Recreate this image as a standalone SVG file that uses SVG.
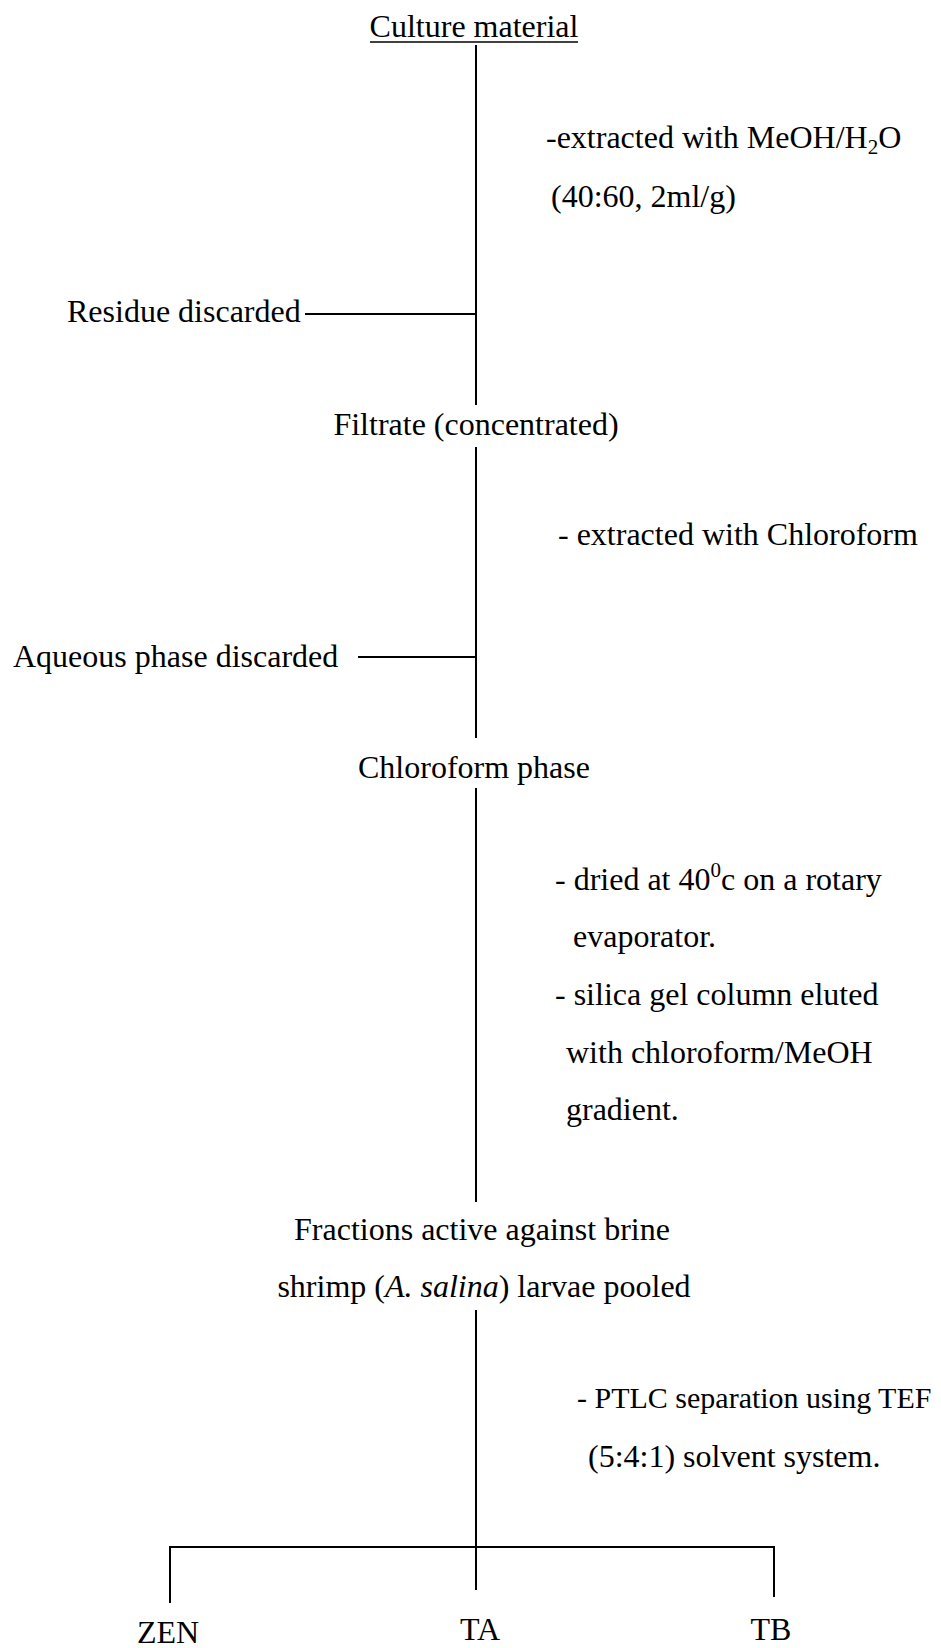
<svg xmlns="http://www.w3.org/2000/svg" width="941" height="1648" viewBox="0 0 941 1648">
<style>
text{font-family:"Liberation Serif","Times New Roman",serif;font-size:32px;fill:#000}
text.s30{font-size:30px}
.c{text-anchor:middle}
.ln{stroke:#000;stroke-width:2;fill:none}
</style>
<rect width="941" height="1648" fill="#fff"/>
<g id="connectors">
<line class="ln" x1="476" y1="45" x2="476" y2="405"/>
<line class="ln" x1="476" y1="447" x2="476" y2="738"/>
<line class="ln" x1="476" y1="788" x2="476" y2="1202"/>
<line class="ln" x1="476" y1="1310" x2="476" y2="1590"/>
<line class="ln" x1="305" y1="314" x2="476" y2="314"/>
<line class="ln" x1="358" y1="657" x2="476" y2="657"/>
<line class="ln" x1="170" y1="1547" x2="775" y2="1547"/>
<line class="ln" x1="170" y1="1546" x2="170" y2="1603"/>
<line class="ln" x1="774" y1="1546" x2="774" y2="1597"/>
</g>
<g id="culture-material">
<text class="c" x="474" y="37">Culture material</text>
<line x1="370" y1="42" x2="578" y2="42" stroke="#000" stroke-width="1.5"/>
</g>
<g id="step-extract-meoh">
<text x="546" y="148">-extracted with MeOH/H<tspan font-size="21" dy="6">2</tspan><tspan dy="-6">O</tspan></text>
<text x="551" y="207">(40:60, 2ml/g)</text>
</g>
<g id="residue-discarded"><text x="67" y="322">Residue discarded</text></g>
<g id="filtrate"><text class="c" x="476" y="435">Filtrate (concentrated)</text></g>
<g id="step-extract-chloroform"><text x="558" y="545">- extracted with Chloroform</text></g>
<g id="aqueous-discarded"><text x="13" y="667">Aqueous phase discarded</text></g>
<g id="chloroform-phase"><text class="c" x="474" y="778">Chloroform phase</text></g>
<g id="step-dry-column">
<text x="555" y="890">- dried at 40<tspan font-size="21" dy="-13">0</tspan><tspan dy="13">c on a rotary</tspan></text>
<text x="573" y="947">evaporator.</text>
<text x="555" y="1005">- silica gel column eluted</text>
<text x="566" y="1063">with chloroform/MeOH</text>
<text x="566" y="1120">gradient.</text>
</g>
<g id="active-fractions">
<text class="c" x="482" y="1240">Fractions active against brine</text>
<text class="c" x="484" y="1297">shrimp (<tspan font-style="italic">A. salina</tspan>) larvae pooled</text>
</g>
<g id="step-ptlc">
<text class="s30" x="577" y="1408">- PTLC separation using TEF</text>
<text x="588" y="1467">(5:4:1) solvent system.</text>
</g>
<g id="zen"><text class="c" x="168" y="1643">ZEN</text></g>
<g id="ta"><text class="c" x="480" y="1640">TA</text></g>
<g id="tb"><text class="c" x="771" y="1640">TB</text></g>
</svg>
